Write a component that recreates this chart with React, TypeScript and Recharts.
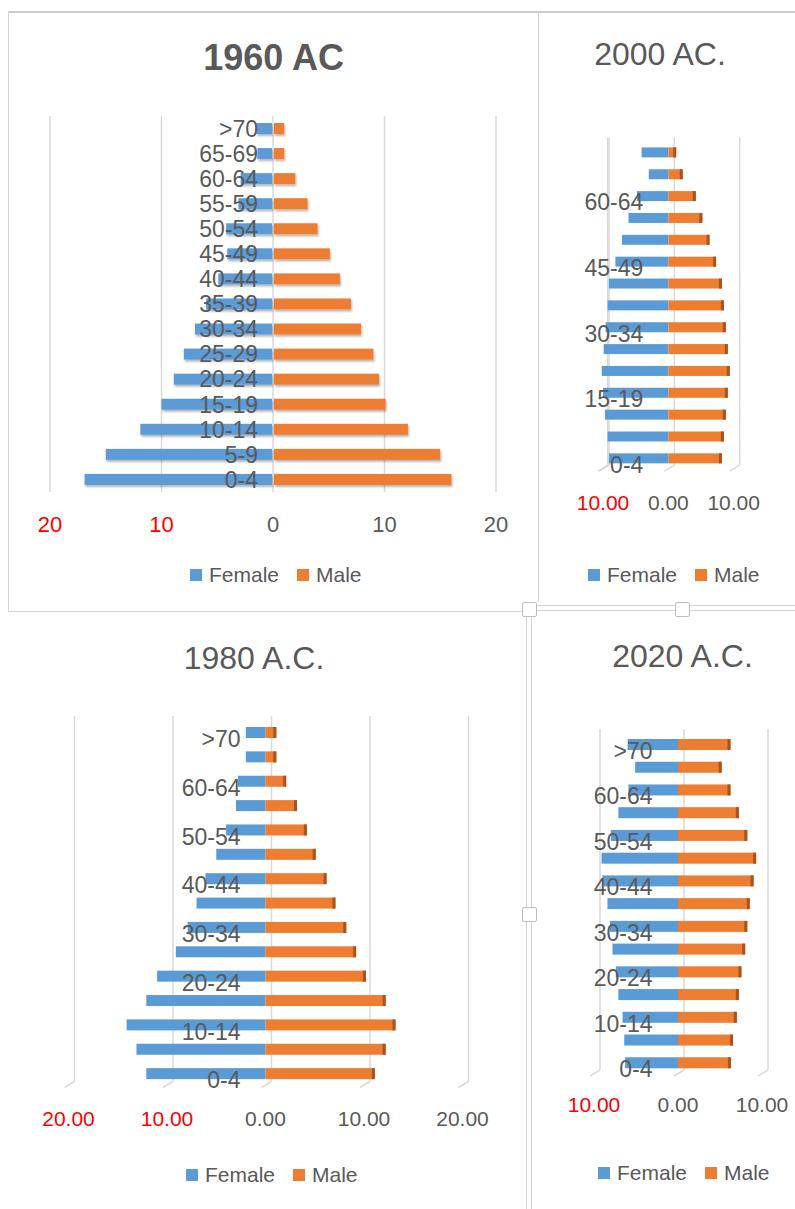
import React from 'react'
import { BarChart, Bar, XAxis, YAxis, CartesianGrid, LabelList } from 'recharts'

// age groups, bottom of the pyramid first
const AGES = ['0-4', '5-9', '10-14', '15-19', '20-24', '25-29', '30-34', '35-39', '40-44', '45-49', '50-54', '55-59', '60-64', '65-69', '>70']

// percentages (female drawn to the left)
const FEMALE_1960 = [16.9, 15.0, 11.9, 10.0, 8.9, 8.0, 7.0, 6.0, 4.9, 4.1, 4.2, 3.1, 2.9, 1.4, 1.5]
const MALE_1960 = [16.0, 15.0, 12.1, 10.1, 9.5, 9.0, 7.9, 7.0, 6.0, 5.1, 4.0, 3.1, 2.0, 1.0, 1.0]
const FEMALE_2000 = [9.1, 9.3, 9.7, 10.0, 10.2, 9.9, 9.6, 9.3, 9.1, 8.1, 7.1, 6.1, 4.8, 3.0, 4.1]
const MALE_2000 = [8.2, 8.5, 8.8, 9.1, 9.4, 9.1, 8.8, 8.5, 8.2, 7.3, 6.3, 5.2, 4.2, 2.2, 1.2]
const FEMALE_1980 = [12.1, 13.1, 14.1, 12.1, 11.0, 9.1, 7.9, 7.0, 6.1, 5.0, 4.0, 3.0, 2.8, 2.0, 2.0]
const MALE_1980 = [11.1, 12.2, 13.2, 12.2, 10.2, 9.2, 8.2, 7.1, 6.2, 5.1, 4.2, 3.2, 2.1, 1.1, 1.1]
const FEMALE_2020 = [6.3, 6.4, 6.6, 7.1, 7.4, 7.8, 8.1, 8.4, 9.0, 9.1, 8.0, 7.1, 5.9, 5.1, 6.0]
const MALE_2020 = [6.3, 6.55, 7.0, 7.25, 7.55, 8.0, 8.25, 8.55, 9.0, 9.3, 8.25, 7.25, 6.25, 5.2, 6.25]

// x axis ticks
const TICKS_WIDE = [-20, -10, 0, 10, 20]
const TICKS_NARROW = [-10, 0, 10]

// which age labels each chart shows
const LABELS_2000 = ['0-4', '15-19', '30-34', '45-49', '60-64']
const LABELS_ODD = ['0-4', '10-14', '20-24', '30-34', '40-44', '50-54', '60-64', '>70']

const BLUE = '#5B9BD5'
const ORANGE = '#ED7D31'
const CAP = '#A9541C'
const TEXT = '#595959'
const GRID = '#D9D9D9'
const FONT = '"Liberation Sans", Arial, sans-serif'

type Cfg = {
  title: string
  bold: boolean
  titleSize: number
  titleX: number
  titleY: number
  female: number[]
  male: number[]
  ticks: number[]
  decimals: number
  shown: string[]
  box: number[]
  plot: number[]
  barSize: number
  labelGap: number
  labelDy: number
  tickDy: number
  tickSize: number
  legendX: number
  legendY: number
  is3d: boolean
}

const charts: Cfg[] = [
  {
    title: '1960 AC', bold: true, titleSize: 36, titleX: 273.5, titleY: 58,
    female: FEMALE_1960, male: MALE_1960, ticks: TICKS_WIDE, decimals: 0, shown: AGES,
    box: [0, 0, 540, 612], plot: [50, 116, 496, 492], barSize: 11,
    labelGap: 15, labelDy: 0, tickDy: 24, tickSize: 22, legendX: 190, legendY: 575, is3d: false,
  },
  {
    title: '2000 AC.', bold: false, titleSize: 32, titleX: 660, titleY: 54,
    female: FEMALE_2000, male: MALE_2000, ticks: TICKS_NARROW, decimals: 2, shown: LABELS_2000,
    box: [540, 0, 255, 605], plot: [601.7, 141.4, 733.7, 469.2], barSize: 10,
    labelGap: 25, labelDy: 6, tickDy: 24.8, tickSize: 21, legendX: 588, legendY: 575, is3d: true,
  },
  {
    title: '1980 A.C.', bold: false, titleSize: 32, titleX: 254, titleY: 658,
    female: FEMALE_1980, male: MALE_1980, ticks: TICKS_WIDE, decimals: 2, shown: LABELS_ODD,
    box: [0, 615, 525, 594], plot: [68.5, 720, 462.5, 1085.5], barSize: 11,
    labelGap: 25, labelDy: 6.5, tickDy: 24.5, tickSize: 21, legendX: 186, legendY: 1175, is3d: true,
  },
  {
    title: '2020 A.C.', bold: false, titleSize: 32, titleX: 682.5, titleY: 656,
    female: FEMALE_2020, male: MALE_2020, ticks: TICKS_NARROW, decimals: 2, shown: LABELS_ODD,
    box: [533, 615, 262, 594], plot: [594, 733, 762, 1074], barSize: 11,
    labelGap: 25.5, labelDy: 6, tickDy: 22.6, tickSize: 21, legendX: 598, legendY: 1173, is3d: true,
  },
]

// back-wall gridline with a little floor stroke, like Excel's 3D bars
const grid3d = (p: any) => {
  const x = p.x1 + 6
  const top = Math.min(p.y1, p.y2) - 4
  const bot = Math.max(p.y1, p.y2) - 4
  return (
    <g key={p.key}>
      <line x1={x} y1={top} x2={x} y2={bot} stroke={GRID} strokeWidth={1.5} />
      <line x1={x} y1={bot} x2={p.x1 - 4} y2={bot + 6} stroke={GRID} strokeWidth={1.5} />
    </g>
  )
}

const norm = (p: any) => {
  const x0 = Math.min(p.x, p.x + p.width)
  return { x0, w: Math.abs(p.width), y: p.y, h: p.height }
}

const flatFemale = (p: any) => {
  const { x0, w, y, h } = norm(p)
  return <rect x={x0} y={y} width={Math.max(w - 1, 0)} height={h} fill={p.fill} filter="url(#barShadow)" />
}

const flatMale = (p: any) => {
  const { x0, w, y, h } = norm(p)
  return <rect x={x0 + 1} y={y} width={Math.max(w - 1, 0)} height={h} fill={p.fill} filter="url(#barShadow)" />
}

const solidFemale = (p: any) => {
  const { x0, w, y, h } = norm(p)
  return <rect x={x0} y={y} width={w} height={h} fill={p.fill} />
}

const capMale = (p: any) => {
  const { x0, w, y, h } = norm(p)
  return (
    <g>
      <rect x={x0} y={y} width={w} height={h} fill={p.fill} />
      <rect x={x0 + w - 3} y={y} width={3} height={h} fill={CAP} />
    </g>
  )
}

function Pyramid({ c }: { c: Cfg }) {
  const data = AGES.map((age, i) => ({ age, female: -c.female[i], male: c.male[i] }))
  const [bl, bt, bw, bh] = c.box
  const [pl, pt, pr, pb] = c.plot
  const margin = { left: pl - bl, top: pt - bt, right: bl + bw - pr, bottom: bt + bh - pb - 30 }

  const xTick = (p: any) => {
    const v = p.payload.value
    return (
      <text
        x={p.x}
        y={p.y + c.tickDy}
        dy="0.36em"
        textAnchor="middle"
        fill={v < 0 ? '#FF0000' : TEXT}
        fontSize={c.tickSize}
        fontFamily={FONT}
      >
        {Math.abs(v).toFixed(c.decimals)}
      </text>
    )
  }

  const ageLabel = (p: any) => {
    if (!c.shown.includes(p.value)) return null
    const vb = p.viewBox || p
    return (
      <text
        x={vb.x - c.labelGap}
        y={vb.y + vb.height / 2 + c.labelDy}
        dy="0.36em"
        textAnchor="end"
        fill={TEXT}
        fontSize={23}
        fontFamily={FONT}
      >
        {p.value}
      </text>
    )
  }

  return (
    <div style={{ position: 'absolute', left: bl, top: bt, width: bw, height: bh }}>
      <BarChart
        width={bw}
        height={bh}
        data={data}
        layout="vertical"
        stackOffset="sign"
        margin={margin}
        barCategoryGap={0}
      >
        <CartesianGrid horizontal={false} stroke={GRID} strokeWidth={1.5} vertical={c.is3d ? grid3d : true} />
        <XAxis
          type="number"
          domain={[c.ticks[0], c.ticks[c.ticks.length - 1]]}
          ticks={c.ticks}
          interval={0}
          axisLine={false}
          tickLine={false}
          height={30}
          tick={xTick}
        />
        <YAxis type="category" dataKey="age" reversed hide />
        <Bar
          dataKey="female"
          stackId="a"
          fill={BLUE}
          barSize={c.barSize}
          isAnimationActive={false}
          shape={c.is3d ? solidFemale : flatFemale}
        />
        <Bar
          dataKey="male"
          stackId="a"
          fill={ORANGE}
          barSize={c.barSize}
          isAnimationActive={false}
          shape={c.is3d ? capMale : flatMale}
        >
          <LabelList dataKey="age" content={ageLabel} />
        </Bar>
      </BarChart>
    </div>
  )
}

function Legend({ x, y }: { x: number; y: number }) {
  const sq = (color: string) => (
    <span style={{ display: 'inline-block', width: 12, height: 12, background: color, marginRight: 7 }} />
  )
  return (
    <div
      style={{
        position: 'absolute', left: x, top: y - 12, height: 24, display: 'flex', alignItems: 'center',
        fontFamily: FONT, fontSize: 21, color: TEXT, whiteSpace: 'nowrap',
      }}
    >
      {sq(BLUE)}
      <span>Female</span>
      <span style={{ width: 18 }} />
      {sq(ORANGE)}
      <span>Male</span>
    </div>
  )
}

const line = (l: number, t: number, w: number, h: number, color = '#D4D4D4') => (
  <div style={{ position: 'absolute', left: l, top: t, width: w, height: h, background: color }} />
)

const handle = (l: number, t: number) => (
  <div
    style={{
      position: 'absolute', left: l, top: t, width: 13, height: 13, background: '#fff',
      border: '1px solid #BDBDBD', borderRadius: 2,
    }}
  />
)

export default function App() {
  return (
    <div style={{ position: 'relative', width: 795, height: 1209, background: '#fff', overflow: 'hidden' }}>
      <style>{'body{margin:0}'}</style>
      <svg width={0} height={0} style={{ position: 'absolute' }}>
        <defs>
          <filter id="barShadow" x="-10%" y="-50%" width="130%" height="250%">
            <feDropShadow dx={1} dy={2} stdDeviation={1.3} floodColor="#000" floodOpacity={0.3} />
          </filter>
        </defs>
      </svg>

      {/* panel frames */}
      {line(8, 11, 787, 2, '#CCCCCC')}
      {line(8, 11, 1, 600)}
      {line(8, 611, 515, 1)}
      {line(538, 11, 1, 591)}
      {line(537, 605, 258, 1)}
      {line(537, 610, 258, 1)}
      {line(526, 617, 1, 290)}
      {line(531, 617, 1, 290)}
      {line(526, 921, 1, 288)}
      {line(531, 921, 1, 288)}
      {handle(522, 602)}
      {handle(675, 602)}
      {handle(522, 907)}

      {charts.map((c) => (
        <React.Fragment key={c.title}>
          <Pyramid c={c} />
          <div
            style={{
              position: 'absolute', left: c.titleX - 200, width: 400, top: c.titleY - c.titleSize / 2,
              lineHeight: `${c.titleSize}px`, textAlign: 'center', fontFamily: FONT, fontSize: c.titleSize,
              fontWeight: c.bold ? 700 : 400, color: TEXT,
            }}
          >
            {c.title}
          </div>
          <Legend x={c.legendX} y={c.legendY} />
        </React.Fragment>
      ))}
    </div>
  )
}
